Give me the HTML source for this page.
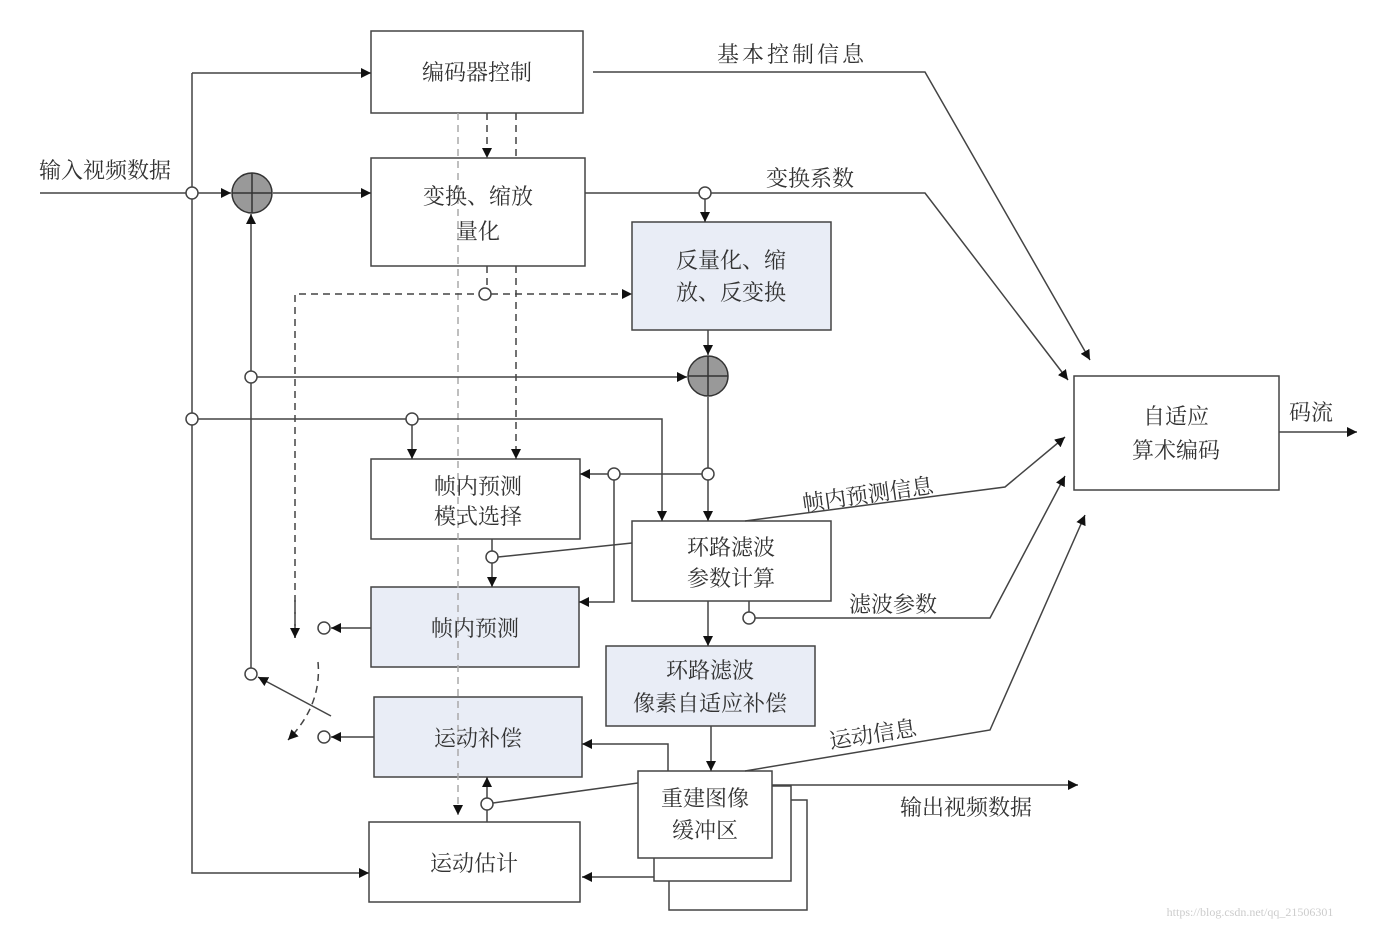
<!DOCTYPE html>
<html><head><meta charset="utf-8"><style>
html,body{margin:0;padding:0;background:#fff;}
svg text{font-family:"Liberation Serif","Noto Serif CJK SC","Noto Sans CJK SC",serif;font-size:22px;fill:#333;text-anchor:middle;}
</style></head><body>
<svg width="1388" height="935" viewBox="0 0 1388 935" xmlns="http://www.w3.org/2000/svg">
<defs>
<marker id="a" viewBox="0 0 10 10" refX="10" refY="5" markerWidth="10" markerHeight="10" markerUnits="userSpaceOnUse" orient="auto"><path d="M0,0 L10,5 L0,10 z" fill="#111"/></marker>
</defs>
<g fill="none" stroke="#444" stroke-width="1.5">
<!-- boxes -->
<rect x="371" y="31" width="212" height="82" fill="#fff"/>
<rect x="371" y="158" width="214" height="108" fill="#fff"/>
<rect x="632" y="222" width="199" height="108" fill="#e9edf6"/>
<rect x="1074" y="376" width="205" height="114" fill="#fff"/>
<rect x="371" y="459" width="209" height="80" fill="#fff"/>
<rect x="632" y="521" width="199" height="80" fill="#fff"/>
<rect x="371" y="587" width="208" height="80" fill="#e9edf6"/>
<rect x="606" y="646" width="209" height="80" fill="#e9edf6"/>
<rect x="374" y="697" width="208" height="80" fill="#e9edf6"/>
<rect x="669" y="800" width="138" height="110" fill="#fff"/>
<rect x="654" y="786" width="137" height="95" fill="#fff"/>
<rect x="638" y="771" width="134" height="87" fill="#fff"/>
<rect x="369" y="822" width="211" height="80" fill="#fff"/>

<!-- dashed -->
<line x1="458" y1="113" x2="458" y2="815" stroke="#aaa" stroke-dasharray="7,5" marker-end="url(#a)"/>
<line x1="487" y1="113" x2="487" y2="158" stroke-dasharray="7,5" marker-end="url(#a)"/>
<line x1="516" y1="113" x2="516" y2="158" stroke-dasharray="7,5"/>
<line x1="516" y1="266" x2="516" y2="459" stroke-dasharray="7,5" marker-end="url(#a)"/>
<line x1="487" y1="266" x2="487" y2="288" stroke-dasharray="7,5"/>
<polyline points="295,638 295,294 632,294" stroke-dasharray="7,5" marker-end="url(#a)"/>
<line x1="295" y1="600" x2="295" y2="638" marker-end="url(#a)" stroke-dasharray="7,5"/>
<path d="M318,662 Q322,705 288,740" stroke-dasharray="7,5" marker-end="url(#a)"/>

<!-- solid -->
<line x1="40" y1="193" x2="231" y2="193" marker-end="url(#a)"/>
<polyline points="192,73 192,873 369,873" marker-end="url(#a)"/>
<line x1="192" y1="73" x2="371" y2="73" marker-end="url(#a)"/>
<line x1="273" y1="193" x2="371" y2="193" marker-end="url(#a)"/>
<polyline points="593,72 925,72 1090,360" marker-end="url(#a)"/>
<polyline points="585,193 925,193 1068,380" marker-end="url(#a)"/>
<line x1="705" y1="199" x2="705" y2="222" marker-end="url(#a)"/>
<line x1="708" y1="330" x2="708" y2="355" marker-end="url(#a)"/>
<line x1="251" y1="668" x2="251" y2="214" marker-end="url(#a)"/>
<line x1="257" y1="377" x2="687" y2="377" marker-end="url(#a)"/>
<polyline points="198,419 662,419 662,521" marker-end="url(#a)"/>
<line x1="412" y1="425" x2="412" y2="459" marker-end="url(#a)"/>
<line x1="708" y1="397" x2="708" y2="521" marker-end="url(#a)"/>
<line x1="702" y1="474" x2="580" y2="474" marker-end="url(#a)"/>
<polyline points="614,480 614,602 579,602" marker-end="url(#a)"/>
<line x1="492" y1="539" x2="492" y2="551"/>
<line x1="492" y1="563" x2="492" y2="587" marker-end="url(#a)"/>
<line x1="498" y1="557" x2="632" y2="543"/>
<line x1="708" y1="601" x2="708" y2="646" marker-end="url(#a)"/>
<line x1="749" y1="601" x2="749" y2="612"/>
<polyline points="755,618 990,618 1065,476" marker-end="url(#a)"/>
<polyline points="745,521 1005,487 1065,437" marker-end="url(#a)"/>
<line x1="371" y1="628" x2="331" y2="628" marker-end="url(#a)"/>
<line x1="374" y1="737" x2="331" y2="737" marker-end="url(#a)"/>
<line x1="331" y1="716" x2="258" y2="677" marker-end="url(#a)"/>
<line x1="711" y1="726" x2="711" y2="771" marker-end="url(#a)"/>
<polyline points="668,771 668,744 582,744" marker-end="url(#a)"/>
<line x1="654" y1="877" x2="582" y2="877" marker-end="url(#a)"/>
<line x1="487" y1="822" x2="487" y2="810"/>
<line x1="487" y1="798" x2="487" y2="777" marker-end="url(#a)"/>
<line x1="493" y1="803" x2="638" y2="783"/>
<polyline points="745,771 990,730 1085,515" marker-end="url(#a)"/>
<line x1="772" y1="785" x2="1078" y2="785" marker-end="url(#a)"/>
<line x1="1279" y1="432" x2="1357" y2="432" marker-end="url(#a)"/>

<!-- adders -->
<circle cx="252" cy="193" r="20" fill="#999" stroke="#333"/>
<path d="M232,193 H272 M252,173 V213" stroke="#333"/>
<circle cx="708" cy="376" r="20" fill="#999" stroke="#333"/>
<path d="M688,376 H728 M708,356 V396" stroke="#333"/>
</g>
<g fill="#fff" stroke="#444" stroke-width="1.5">
<circle cx="192" cy="193" r="6"/><circle cx="705" cy="193" r="6"/><circle cx="485" cy="294" r="6"/>
<circle cx="251" cy="377" r="6"/><circle cx="192" cy="419" r="6"/><circle cx="412" cy="419" r="6"/>
<circle cx="708" cy="474" r="6"/><circle cx="614" cy="474" r="6"/><circle cx="492" cy="557" r="6"/>
<circle cx="749" cy="618" r="6"/><circle cx="324" cy="628" r="6"/><circle cx="324" cy="737" r="6"/>
<circle cx="251" cy="674" r="6"/><circle cx="487" cy="804" r="6"/>
</g>
<g>
<text x="477" y="80">编码器控制</text>
<text x="478" y="204">变换、缩放</text><text x="478" y="239">量化</text>
<text x="731" y="268">反量化、缩</text><text x="731" y="300">放、反变换</text>
<text x="1176" y="424">自适应</text><text x="1176" y="458">算术编码</text>
<text x="478" y="494">帧内预测</text><text x="478" y="524">模式选择</text>
<text x="731" y="555">环路滤波</text><text x="731" y="586">参数计算</text>
<text x="475" y="636">帧内预测</text>
<text x="710" y="678">环路滤波</text><text x="710" y="711">像素自适应补偿</text>
<text x="478" y="746">运动补偿</text>
<text x="705" y="806">重建图像</text><text x="705" y="838">缓冲区</text>
<text x="474" y="871">运动估计</text>
<text x="105" y="178">输入视频数据</text>
<text x="792" y="62" letter-spacing="3">基本控制信息</text>
<text x="810" y="186">变换系数</text>
<text x="868" y="502" transform="rotate(-8 868 495)">帧内预测信息</text>
<text x="893" y="612">滤波参数</text>
<text x="873" y="742" transform="rotate(-9 873 735)">运动信息</text>
<text x="966" y="815">输出视频数据</text>
<text x="1311" y="420">码流</text>
<text x="1250" y="916" style="font-size:12px;fill:#ccc">https://blog.csdn.net/qq_21506301</text>
</g>
</svg>
</body></html>
